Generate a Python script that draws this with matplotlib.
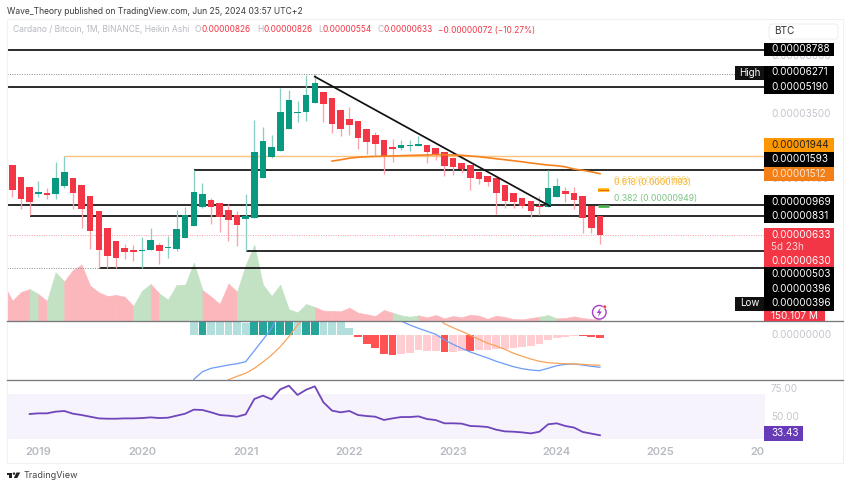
#!/usr/bin/env python3
"""Cardano / Bitcoin monthly Heikin Ashi chart, TradingView style."""

from math import exp

import matplotlib
matplotlib.use("Agg")
import matplotlib.pyplot as plt
from matplotlib.patches import Rectangle, FancyBboxPatch, Circle, Polygon

plt.rcParams['font.family'] = ['Inter', 'DejaVu Sans']

W, H = 850, 488

# prices below are in units of 0.00000001 BTC
UNIT = 1e-8

# months counted from Oct 2018 (index 0)
candle_open = [1699, 1452, 1258, 1134, 1155, 1139, 1277, 1419, 1284, 1107, 889, 700, 585, 525, 510,
               503, 508, 547, 526, 522, 605, 718, 941, 1041, 997, 906, 844, 790, 808, 1430,
               1923, 2074, 2842, 3556, 3608, 4143, 4800, 4425, 3749, 3287, 3179, 2842, 2609, 2453,
               2218, 2178, 2228, 2228, 2284, 2178, 2056, 1878, 1766, 1699, 1559, 1473, 1419, 1290,
               1155, 1075, 1021, 959, 945, 1091, 1184, 1155, 1097, 951, 826]
candle_high = [1699, 1452, 1258, 1365, 1236, 1790, 1944, 1419, 1284, 1107, 889, 700, 585, 560, 547,
               611, 695, 568, 625, 902, 945, 1593, 1322, 1075, 997, 985, 889, 1129, 3231, 2951,
               2609, 5105, 4960, 4249, 6145, 6271, 4800, 4425, 3749, 3911, 3179, 2842, 2748, 2453,
               2478, 2442, 2453, 2597, 2284, 2178, 2056, 1878, 1766, 1699, 1559, 1473, 1419, 1290,
               1155, 1075, 1021, 1102, 1598, 1430, 1248, 1258, 1097, 951, 826]
candle_low = [1091, 915, 840, 1086, 1056, 1061, 1236, 915, 700, 522, 396, 396, 396, 448, 438,
              396, 508, 418, 459, 505, 605, 718, 924, 738, 665, 582, 541, 503, 808, 1430,
              1895, 2074, 2842, 3137, 3184, 4143, 3157, 2700, 2570, 2635, 2157, 2009, 1972, 1509,
              1790, 2105, 2086, 2228, 1766, 1825, 1467, 1494, 1536, 1201, 1309, 1277, 852, 928,
              931, 924, 812, 840, 937, 1085, 1016, 915, 649, 652, 554]
candle_close = [1201, 1056, 1016, 1172, 1123, 1425, 1559, 1155, 919, 671, 510, 468, 459, 497, 494,
                512, 588, 505, 531, 685, 836, 1162, 1129, 945, 819, 785, 731, 832, 2056, 2418,
                2218, 3641, 4300, 3656, 4618, 5458, 4044, 3070, 2842, 3039, 2524, 2372, 2317, 1951,
                2147, 2274, 2261, 2317, 2056, 1976, 1683, 1666, 1614, 1419, 1399, 1351, 1150, 1031,
                1007, 959, 889, 937, 1241, 1271, 1129, 1036, 804, 700, 633]

# volume in millions, first value belongs to the month before the first candle
volume = [3226, 1789, 2552, 2816, 2376, 1760, 4282, 3490, 4488, 4957, 3109, 2522, 2200, 2288, 2141,
          1320, 2669, 3256, 2434, 1877, 3168, 3197, 5133, 2728, 2141, 1496, 3285, 2581, 4927, 6687,
          3197, 2200, 3197, 1027, 763, 1496, 1232, 909, 880, 851, 1173, 733, 587, 440, 968,
          733, 499, 381, 499, 322, 528, 235, 440, 322, 557, 469, 205, 469, 352, 176,
          147, 264, 381, 528, 235, 264, 411, 264, 176, 150]

# horizontal levels: price, index where the drawing starts (None = left edge)
level_prices = [8788, 5190, 1593, 969, 831, 503, 396]
level_starts = [None, None, 21, None, 2, 27, 10]
orange_level = 1944
orange_start = 6
high_price = 6271
low_price = 396
low_index = 10
last_price = 633

trend_x = [35, 62.2]
trend_y = [6002, 955]

ema_start = 37
ema = [1808, 1843, 1883, 1909, 1924, 1932, 1938, 1946, 1952, 1960, 1966, 1972, 1980, 1980, 1972,
       1963, 1944, 1924, 1896, 1869, 1843, 1817, 1790, 1760, 1733, 1709, 1693, 1666, 1614, 1587,
       1552, 1512]

fib_prices = [1193, 949]
fib_labels = ["0.618 (0.00001193)", "0.382 (0.00000949)"]

# MACD pane, same units as the prices
hist_start = 21
hist = [150, 150, 150, 150, 150, 150, 123, 150, 150, 150, 150, 150, 150, 150, 150, 150, 150, 150,
        67, -20, -87, -133, -187, -197, -190, -177, -153, -157, -160, -167, -167, -160, -157, -150,
        -147, -140, -137, -130, -123, -110, -93, -50, -30, -17, -7, -7, -20, -27]
hist_dark = [0, 1, 0, 0, 0, 0, 0, 1, 1, 1, 1, 1, 0, 1, 1, 0, 0, 0,
             0, 1, 1, 1, 1, 1, 0, 0, 0, 0, 0, 1, 0, 0, 1, 0,
             0, 0, 0, 0, 0, 0, 0, 0, 0, 0, 0, 1, 1, 1]
macd_start = 21
macd = [-443, -367, -333, -317, -300, -287, -267, -157, -47, 67, 250, 600, 900, 1100, 1300, 1400,
        1450, 1350, 1200, 1000, 800, 600, 400, 250, 140, 100, 67, 37, 7, -50, -93, -133, -170, -200,
        -230, -263, -290, -317, -337, -350, -357, -333, -307, -293, -290, -300, -313, -323]
signal_start = 25
signal = [-447, -413, -383, -333, -270, -200, -117, -17, 100, 190, 300, 430, 550, 650, 730, 780,
          790, 760, 700, 620, 540, 450, 370, 300, 190, 113, 73, 37, -3, -43, -83, -110, -143, -183,
          -213, -240, -263, -277, -283, -287, -290, -293, -300, -303]

# RSI pane
rsi_start = 2
rsi = [52.4, 53.0, 53.0, 54.5, 55.1, 52.7, 51.5, 50.0, 48.5, 48.2, 48.2, 48.5, 48.5, 48.8, 49.4,
       48.8, 49.1, 50.9, 52.7, 56.3, 56.0, 53.9, 51.5, 50.9, 50.0, 52.1, 65.8, 68.8, 65.5, 74.4,
       77.7, 69.4, 74.1, 77.1, 62.8, 55.4, 53.9, 55.1, 51.5, 50.6, 50.0, 47.1, 48.5, 49.7, 49.7,
       50.3, 47.9, 47.0, 44.1, 44.1, 43.8, 41.7, 41.4, 40.8, 38.4, 36.9, 36.6, 36.0, 35.1, 36.6,
       43.2, 44.1, 41.7, 40.3, 36.4, 34.9, 33.43]

year_labels = ["2019", "2020", "2021", "2022", "2023", "2024", "2025"]
year_index = [3, 15, 27, 39, 51, 63, 75]

GREEN = '#089981'
RED = '#F23645'
BLACK = '#111111'
GRAY = '#C3C5CC'

# pixel layout of the panes
PANE_L, PANE_R = 7, 765
FRAME_R, FRAME_T, FRAME_B = 843, 19, 463
SEP1, SEP2 = 321, 379.5
X0, DX = 12.4, 8.64


def add_pane(fig, top, bottom):
    ax = fig.add_axes([PANE_L / W, 1 - bottom / H, (PANE_R - PANE_L) / W, (bottom - top) / H])
    ax.set_xlim((PANE_L - X0) / DX, (PANE_R - X0) / DX)
    ax.set_axis_off()
    ax.patch.set_alpha(0)
    return ax


fig = plt.figure(figsize=(W / 100, H / 100), dpi=100, facecolor='white')

# ── Volume ────────────────────────────────────────────────────────────────────
ax_vol = add_pane(fig, FRAME_T, SEP1)
ax_vol.set_ylim(0, (SEP1 - FRAME_T) * 88)
for k in range(len(volume) - 1):
    rising = candle_close[k] >= candle_open[k]
    col = '#C2E2C3' if rising else '#FBB7BC'
    ax_vol.fill_between([k - 1, k], volume[k:k + 2], 0, color=col, lw=0.4, edgecolor=col)

# ── Price ─────────────────────────────────────────────────────────────────────
PX_PER_LN = 70.4
ax = add_pane(fig, FRAME_T, SEP1)
ax.set_yscale('log')
ax.set_ylim(969 * exp((205 - SEP1) / PX_PER_LN), 969 * exp((205 - FRAME_T) / PX_PER_LN))
ax.set_axis_off()
left = ax.get_xlim()[0]
right = ax.get_xlim()[1]

# drawings sit under the candles, the trend line above them
for price, start in zip(level_prices, level_starts):
    ax.hlines(price, left if start is None else start, right, color=BLACK, lw=1.25, zorder=2)
ax.hlines(orange_level, orange_start, right, color='#FBC27D', lw=1.0, zorder=2)
ax.hlines(high_price, left, (735 - X0) / DX, color='#8a8a8a', lw=0.7, ls=(0, (1, 1.5)), zorder=2)
ax.hlines(low_price, left, low_index, color='#8a8a8a', lw=0.7, ls=(0, (1, 1.5)), zorder=2)
ax.hlines(last_price, left, right, color='#F59AA3', lw=0.7, ls=(0, (1, 1.5)), zorder=2)

for i, (o, h, l, c) in enumerate(zip(candle_open, candle_high, candle_low, candle_close)):
    col = GREEN if c >= o else RED
    wick = '#8AD0C2' if c >= o else '#F9A3AB'
    ax.vlines(i, l, h, color=wick, lw=0.95, zorder=3)
    ax.bar(i, max(o, c) - min(o, c), bottom=min(o, c), width=0.76, color=col, lw=0, zorder=4)

ax.plot(trend_x, trend_y, color=BLACK, lw=1.25, zorder=5)
ax.plot(range(ema_start, ema_start + len(ema)), ema, color='#F5811F', lw=1.2, zorder=5)

ax.hlines(fib_prices[0], 67.8, 69, color='#FFB300', lw=2.6, zorder=4)
ax.hlines(fib_prices[0], 67.8, 69, color='#F2501E', lw=0.6, zorder=5)
ax.hlines(fib_prices[1], 67.8, 69, color='#4CAF50', lw=2.0, zorder=4)

# ── MACD ──────────────────────────────────────────────────────────────────────
ax_macd = add_pane(fig, SEP1, SEP2)
ax_macd.set_ylim((335 - SEP2) * 10, (335 - SEP1) * 10)
for k, (val, dark) in enumerate(zip(hist, hist_dark)):
    if val >= 0:
        col = '#26A69A' if dark else '#B2DFDB'
    else:
        col = '#FF5252' if dark else '#FFCDD2'
    ax_macd.bar(hist_start + k, val, width=0.9, color=col, lw=0)
ax_macd.plot(range(macd_start, macd_start + len(macd)), macd, color='#6C9BFA', lw=0.9)
ax_macd.plot(range(signal_start, signal_start + len(signal)), signal, color='#F9A35B', lw=0.9)

# ── RSI ───────────────────────────────────────────────────────────────────────
ax_rsi = add_pane(fig, SEP2, FRAME_B)
ax_rsi.set_ylim(50 - (FRAME_B - 416.7) / 1.12, 50 + (416.7 - SEP2) / 1.12)
ax_rsi.axhspan(30, 70, color='#F6F3FC', lw=0, zorder=1)
ax_rsi.plot(range(rsi_start, rsi_start + len(rsi)), rsi, color='#6F45BC', lw=1.3, zorder=3)
for idx, lab in zip(year_index, year_labels):
    ax_rsi.text(idx, 50 - (451.7 - 416.7) / 1.12, lab, ha='center', va='center', fontsize=8.0,
                color='#B9BBC3', fontweight='semibold')

# ── Overlay in pixel coordinates: frame, scale labels, header ─────────────────
ov = fig.add_axes([0, 0, 1, 1], zorder=10)
ov.set_xlim(0, W)
ov.set_ylim(H, 0)
ov.set_axis_off()
ov.patch.set_alpha(0)

ov.add_patch(Rectangle((PANE_L, FRAME_T), FRAME_R - PANE_L, FRAME_B - FRAME_T, fill=False,
                       ec='#F0F1F4', lw=0.8, zorder=1))
for y in (SEP1, SEP2):
    ov.plot([PANE_L, FRAME_R], [y, y], color='#77797F', lw=0.95, zorder=2)

SCALE_TX = 771
SCALE_FS = 7.15


def scale_text(y, txt, col='white', **kw):
    ov.text(SCALE_TX, y, txt, color=col, fontsize=SCALE_FS, va='center', ha='left', zorder=6, **kw)


def scale_box(y0, y1, col, x1=834):
    ov.add_patch(Rectangle((764, y0), x1 - 764, y1 - y0, fc=col, ec='none', zorder=5))


# axis ticks that sit partly under the labels
for y, txt in [(56, "0.00008000"), (114, "0.00003500"), (179, "0.00001400")]:
    ov.text(SCALE_TX, y, txt, color=GRAY, fontsize=SCALE_FS, va='center', zorder=3)
ov.text(SCALE_TX, 335, "0.00000000", color=GRAY, fontsize=SCALE_FS, va='center')
ov.text(SCALE_TX, 388.7, "75.00", color=GRAY, fontsize=SCALE_FS, va='center')
ov.text(SCALE_TX, 416.7, "50.00", color=GRAY, fontsize=SCALE_FS, va='center')
ov.text(764, 451.7, "20", ha='right', va='center', fontsize=8.0, color='#B9BBC3', fontweight='semibold')

scale_box(43, 56, 'black')
scale_text(49.3, "0.00008788")
scale_box(65.5, 93.5, 'black')
scale_text(72.4, "0.00006271")
scale_text(86.7, "0.00005190")
scale_box(138, 152, '#FF9800')
scale_text(145, "0.00001944", col='#222222')
scale_box(152, 166.5, 'black')
scale_text(159.3, "0.00001593")
scale_box(166.5, 180.5, '#F57F17')
scale_text(173.7, "0.00001512", col='#FFE9D6')
scale_box(194.7, 222.7, 'black')
scale_text(201.7, "0.00000969")
scale_text(215.7, "0.00000831")
scale_box(227.7, 267.3, RED)
scale_text(234.7, "0.00000633")
scale_text(246.7, "5d 23h", col='#FFD5D9')
scale_text(260.7, "0.00000630")
scale_box(267.3, 310.7, 'black')
scale_text(274.3, "0.00000503")
scale_text(288.7, "0.00000396")
scale_text(303.3, "0.00000396")
scale_box(310.7, SEP1 - 0.5, RED, x1=825)
scale_text(316.4, "150.107 M")
scale_box(426, 440.7, '#673AB7', x1=803)
scale_text(433.2, "33.43")

for y0, y1, txt in [(65.5, 79.5, "High"), (296.5, 310.5, "Low")]:
    ov.add_patch(Rectangle((735, y0), 29, y1 - y0, fc='#111111', ec='none', zorder=5))
    ov.text(749.5, (y0 + y1) / 2, txt, color='white', fontsize=7.0, ha='center', va='center', zorder=6)

ov.add_patch(FancyBboxPatch((769, 24), 69, 15, boxstyle="round,pad=0,rounding_size=3", fc='white',
                            ec='#EEEEF1', lw=0.7, zorder=4))
ov.text(774, 31.5, "BTC", color='#333333', fontsize=7.2, va='center', zorder=6)

ov.text(614, 180.5, "0.65 (0.00001306)", color='#FBD68A', fontsize=6.2, va='center', zorder=3)
ov.text(614, 182.5, fib_labels[0], color='#F7B733', fontsize=6.2, va='center', zorder=4)
ov.text(614, 198, fib_labels[1], color='#7DC383', fontsize=6.2, va='center', zorder=4)

# Alert icon on the volume pane
ov.add_patch(Circle((599.3, 312.3), 6.8, fill=False, ec='#A43FC4', lw=1.0, zorder=6))
ov.add_patch(Polygon([(600.8, 307.5), (596.6, 313), (599.2, 313), (597.8, 317), (602, 311.5),
                      (599.4, 311.5)], fc='#A43FC4', ec='none', zorder=6))
ov.add_patch(Circle((604.7, 306.7), 1.7, fc=RED, ec='white', lw=0.4, zorder=7))

# Header
ov.text(7, 11, "Wave_Theory published on TradingView.com, Jun 25, 2024 03:57 UTC+2", color='#3A3A3A',
        fontsize=6.1, va='center')
ov.text(13, 30, "Cardano / Bitcoin, 1M, BINANCE, Heikin Ashi", color='#B5B8C0', fontsize=6.1, va='center')
for x, txt in [(195, "O"), (257, "H"), (318, "L"), (378, "C")]:
    ov.text(x, 30, txt, color='#B5B8C0', fontsize=6.1, va='center')
for x, txt in [(202, "0.00000826"), (264, "0.00000826"), (323, "0.00000554"), (384, "0.00000633"),
               (438, "\u22120.00000072 (\u221210.27%)")]:
    ov.text(x, 30, txt, color=RED, fontsize=6.0, va='center')

# TradingView logo and name
ov.add_patch(Polygon([(7, 472.5), (12.5, 472.5), (12.5, 478), (9.5, 478), (9.5, 474.8), (7, 474.8)],
                     fc='#222222', ec='none'))
ov.add_patch(Circle((14, 473.6), 1.2, fc='#222222', ec='none'))
ov.add_patch(Polygon([(16.5, 472.5), (20.2, 472.5), (17.2, 478), (13.8, 478)], fc='#222222', ec='none'))
ov.text(24, 476, "TradingView", color='#444444', fontsize=6.5, va='center')

fig.savefig("out.png", dpi=100)
